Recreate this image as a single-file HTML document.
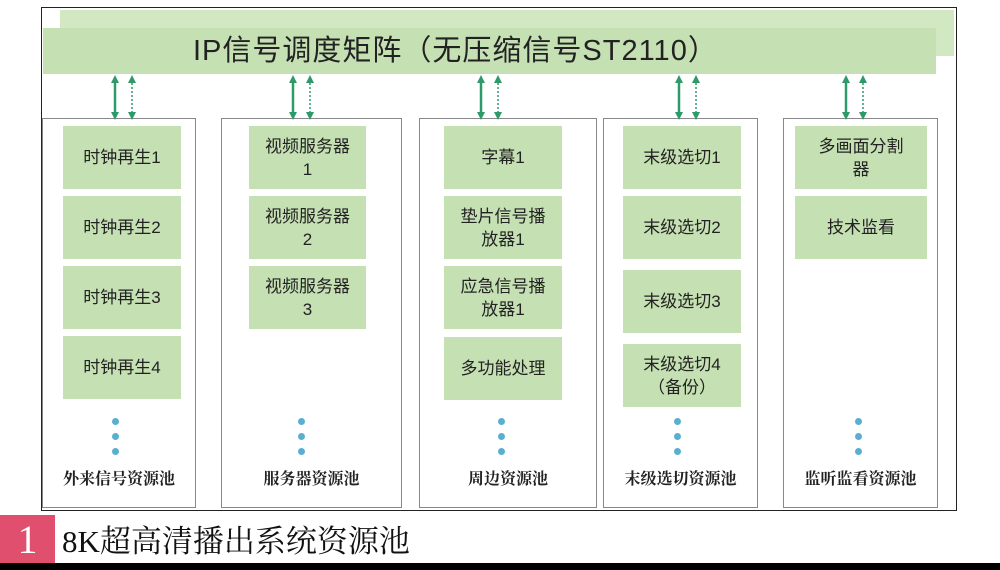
<!DOCTYPE html>
<html><head><meta charset="utf-8"><style>
body{margin:0;width:1000px;height:570px;background:#fff;position:relative;overflow:hidden;font-family:"Liberation Sans","Noto Sans CJK SC",sans-serif}
div{position:absolute;box-sizing:border-box}
.col{border:1.5px solid #888;top:118px;height:390px;background:#fff}
.b{background:#c5e0b3;display:flex;align-items:center;justify-content:center;text-align:center;font-size:17px;color:#222;line-height:23px}
.lab{font-family:"Noto Serif CJK SC",serif;font-size:16px;font-weight:bold;color:#222;text-align:center;top:466px}
.dot{width:7px;height:7px;border-radius:50%;background:#5aaed0}
</style></head><body>
<div style="left:41px;top:7px;width:916px;height:504px;border:1.5px solid #222"></div>
<div style="left:60px;top:10px;width:894px;height:46px;background:#d2e8c3"></div>
<div style="left:43px;top:28px;width:893px;height:46px;background:#c5e0b3;font-size:29px;color:#222;padding-left:150px;line-height:46px;letter-spacing:1px">IP信号调度矩阵（无压缩信号ST2110）</div>

<div class="col" style="left:42px;width:154px"></div>
<div class="col" style="left:221px;width:181px"></div>
<div class="col" style="left:419px;width:178px"></div>
<div class="col" style="left:603px;width:155px"></div>
<div class="col" style="left:783px;width:155px"></div>

<svg style="position:absolute;left:0;top:0" width="1000" height="570">
<defs><marker id="a" markerWidth="8" markerHeight="8" refX="4" refY="4" orient="auto-start-reverse" markerUnits="userSpaceOnUse"><path d="M0,0 L8,4 L0,8 z" fill="#2e9a6a"/></marker></defs>
<g stroke="#2e9a6a" stroke-width="2.5">
<line x1="115" y1="79" x2="115" y2="116" marker-start="url(#a)" marker-end="url(#a)"/>
<line x1="293" y1="79" x2="293" y2="116" marker-start="url(#a)" marker-end="url(#a)"/>
<line x1="481" y1="79" x2="481" y2="116" marker-start="url(#a)" marker-end="url(#a)"/>
<line x1="679" y1="79" x2="679" y2="116" marker-start="url(#a)" marker-end="url(#a)"/>
<line x1="846" y1="79" x2="846" y2="116" marker-start="url(#a)" marker-end="url(#a)"/>
</g>
<g stroke="#2e9a6a" stroke-width="1.5" stroke-dasharray="2,2">
<line x1="132" y1="79" x2="132" y2="116" marker-start="url(#a)" marker-end="url(#a)"/>
<line x1="310" y1="79" x2="310" y2="116" marker-start="url(#a)" marker-end="url(#a)"/>
<line x1="498" y1="79" x2="498" y2="116" marker-start="url(#a)" marker-end="url(#a)"/>
<line x1="696" y1="79" x2="696" y2="116" marker-start="url(#a)" marker-end="url(#a)"/>
<line x1="863" y1="79" x2="863" y2="116" marker-start="url(#a)" marker-end="url(#a)"/>
</g>
</svg>

<div class="b" style="left:63px;top:126px;width:118px;height:63px">时钟再生1</div>
<div class="b" style="left:63px;top:196px;width:118px;height:63px">时钟再生2</div>
<div class="b" style="left:63px;top:266px;width:118px;height:63px">时钟再生3</div>
<div class="b" style="left:63px;top:336px;width:118px;height:63px">时钟再生4</div>

<div class="b" style="left:249px;top:126px;width:117px;height:63px">视频服务器<br>1</div>
<div class="b" style="left:249px;top:196px;width:117px;height:63px">视频服务器<br>2</div>
<div class="b" style="left:249px;top:266px;width:117px;height:63px">视频服务器<br>3</div>

<div class="b" style="left:444px;top:126px;width:118px;height:63px">字幕1</div>
<div class="b" style="left:444px;top:196px;width:118px;height:63px">垫片信号播<br>放器1</div>
<div class="b" style="left:444px;top:266px;width:118px;height:63px">应急信号播<br>放器1</div>
<div class="b" style="left:444px;top:337px;width:118px;height:63px">多功能处理</div>

<div class="b" style="left:623px;top:126px;width:118px;height:63px">末级选切1</div>
<div class="b" style="left:623px;top:196px;width:118px;height:63px">末级选切2</div>
<div class="b" style="left:623px;top:270px;width:118px;height:63px">末级选切3</div>
<div class="b" style="left:623px;top:344px;width:118px;height:63px">末级选切4<br>（备份）</div>

<div class="b" style="left:795px;top:126px;width:132px;height:63px">多画面分割<br>器</div>
<div class="b" style="left:795px;top:196px;width:132px;height:63px">技术监看</div>

<div class="dot" style="left:112px;top:418px"></div><div class="dot" style="left:112px;top:433px"></div><div class="dot" style="left:112px;top:448px"></div>
<div class="dot" style="left:298px;top:418px"></div><div class="dot" style="left:298px;top:433px"></div><div class="dot" style="left:298px;top:448px"></div>
<div class="dot" style="left:498px;top:418px"></div><div class="dot" style="left:498px;top:433px"></div><div class="dot" style="left:498px;top:448px"></div>
<div class="dot" style="left:674px;top:418px"></div><div class="dot" style="left:674px;top:433px"></div><div class="dot" style="left:674px;top:448px"></div>
<div class="dot" style="left:855px;top:418px"></div><div class="dot" style="left:855px;top:433px"></div><div class="dot" style="left:855px;top:448px"></div>

<div class="lab" style="left:42px;width:154px">外来信号资源池</div>
<div class="lab" style="left:221px;width:181px">服务器资源池</div>
<div class="lab" style="left:419px;width:178px">周边资源池</div>
<div class="lab" style="left:603px;width:155px">末级选切资源池</div>
<div class="lab" style="left:783px;width:155px">监听监看资源池</div>

<div style="left:0;top:515px;width:55px;height:50px;background:#e0506e;color:#fff;font-family:'Liberation Serif',serif;font-size:40px;line-height:50px;text-align:center">1</div>
<div style="left:62px;top:521px;font-family:'Liberation Serif','Noto Serif CJK SC',serif;font-size:31px;line-height:42px;color:#111">8K超高清播出系统资源池</div>
<div style="left:0;top:563px;width:1000px;height:7px;background:#000"></div>
</body></html>
